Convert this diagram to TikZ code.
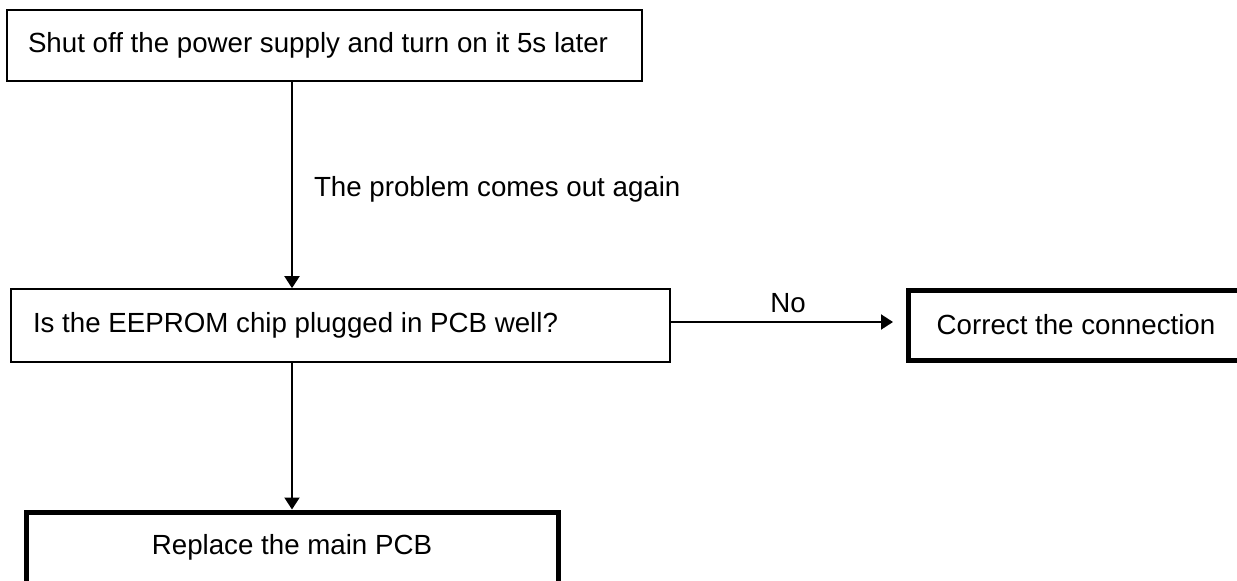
\documentclass[tikz,border=0pt]{standalone}
\usepackage{fontspec}
\setmainfont{Liberation Sans}
\usetikzlibrary{arrows.meta,calc}
\tikzset{
  thinbox/.style={draw=black, line width=2pt, rectangle, inner ysep=0pt, font=\fontsize{27.7}{33}\selectfont},
  thickbox/.style={draw=black, line width=5pt, rectangle, inner sep=0pt, align=center, font=\fontsize{27.7}{33}\selectfont},
  arr/.style={line width=2pt, -{Triangle[length=12pt,width=15pt]}},
  lbl/.style={inner sep=0pt, font=\fontsize{27.7}{33}\selectfont},
}
\begin{document}
\begin{tikzpicture}[x=1pt,y=-1pt]
\useasboundingbox (0,0) rectangle (1237,581);
\fill[white] (0,0) rectangle (1237,581);
\clip (0,0) rectangle (1237,581);

\node[thinbox, inner xsep=21pt, minimum height=71pt] (shut) at (324.5,45.5)
  {\makebox[593pt][l]{Shut off the power supply and turn on it 5s later}};
\node[thinbox, line width=1.7pt, inner xsep=22pt, minimum height=73pt] (check) at (340.5,325.5)
  {\makebox[615pt][l]{Is the EEPROM chip plugged in PCB well?}};
\node[thickbox, minimum width=336pt, minimum height=70pt] (fix) at (1076,325)
  {Correct the connection};
\node[thickbox, minimum width=532pt, minimum height=71pt] (replace) at (292,547.5)
  {Replace the main PCB};

\draw[arr] (shut.south -| replace.north) -- (check.north -| replace.north)
  node[lbl, pos=0.52, anchor=west, xshift=21pt] (again) {The problem comes out again};
\draw[arr, shorten >=12.5pt] ([yshift=3.5pt]check.east) -- ([yshift=3.5pt]check.east -| fix.west)
  node[lbl, midway, yshift=19pt] (no) {No};
\draw[arr] (check.south -| replace.north) -- (replace.north);
\end{tikzpicture}
\end{document}
